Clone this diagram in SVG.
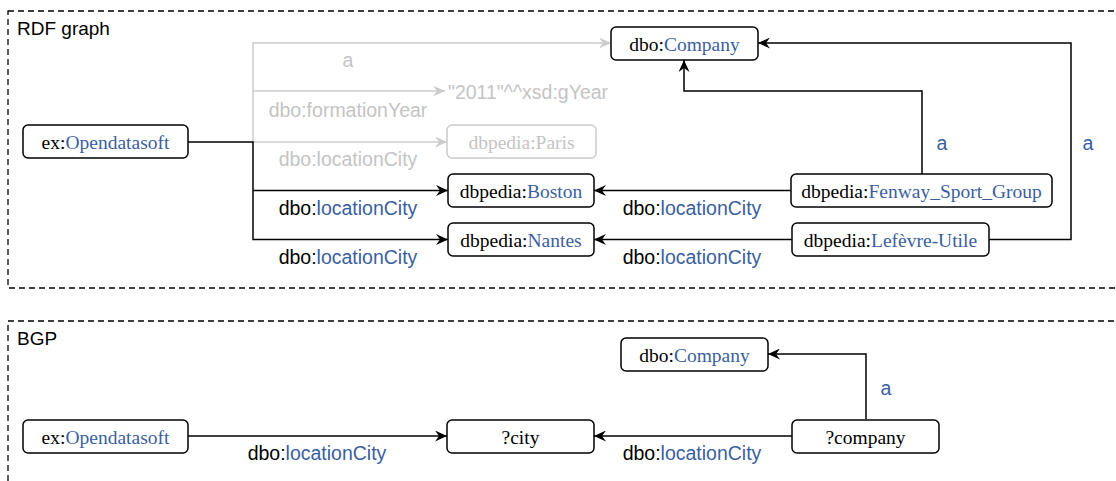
<svg xmlns="http://www.w3.org/2000/svg" width="1116" height="481" viewBox="0 0 1116 481">
<style>
.frame{fill:none;stroke:#000;stroke-width:1.3;stroke-dasharray:6 4}
.title{font-family:"Liberation Sans",Arial,sans-serif;font-size:19px;fill:#000}
.node rect{fill:#fff;stroke:#000;stroke-width:1.5}
.node text{font-family:"Liberation Serif","Times New Roman",serif;font-size:19.5px;fill:#000;text-anchor:middle}
.ghost rect{stroke:#cccccc}
.ghost text{fill:#c4c4c4}
.edge{fill:none;stroke:#000;stroke-width:1.5}
.gedge{fill:none;stroke:#cccccc;stroke-width:1.5}
.lbl{font-family:"Liberation Sans",Arial,sans-serif;font-size:19.5px;fill:#000;text-anchor:middle}
.glbl{font-family:"Liberation Sans",Arial,sans-serif;font-size:19.5px;fill:#c4c4c4;text-anchor:middle}
.b,.lbl.b,.node text .b{fill:#3a5f9f}
</style>
<defs>
<marker id="arr" markerUnits="userSpaceOnUse" markerWidth="12" markerHeight="11" refX="12" refY="5.5" orient="auto">
<path d="M0,0 L12,5.5 L0,11 L4,5.5 Z" fill="#000"/>
</marker>
<marker id="garr" markerUnits="userSpaceOnUse" markerWidth="12" markerHeight="11" refX="12" refY="5.5" orient="auto">
<path d="M0,0 L12,5.5 L0,11 L4,5.5 Z" fill="#cccccc"/>
</marker>
</defs>
<rect width="1116" height="481" fill="#fff"/>

<g id="frames">
<rect class="frame" x="8" y="11" width="1120" height="277"/>
<text class="title" x="17" y="35">RDF graph</text>
<rect class="frame" x="8" y="321" width="1120" height="180"/>
<text class="title" x="17" y="345">BGP</text>
</g>

<g id="connectors">
<path class="gedge" d="M253,142 V43 H611" marker-end="url(#garr)"/>
<path class="gedge" d="M253,91 H445" marker-end="url(#garr)"/>
<path class="gedge" d="M253,142 H447" marker-end="url(#garr)"/>
<path class="edge" d="M188,142 H253 V239.5 H448" marker-end="url(#arr)"/>
<path class="edge" d="M253,190.5 H448" marker-end="url(#arr)"/>
<path class="edge" d="M791,190.5 H594" marker-end="url(#arr)"/>
<path class="edge" d="M792,239.5 H594" marker-end="url(#arr)"/>
<path class="edge" d="M922,174 V91 H684 V60" marker-end="url(#arr)"/>
<path class="edge" d="M989,239.5 H1071 V43 H758" marker-end="url(#arr)"/>
<path class="edge" d="M188,436 H447" marker-end="url(#arr)"/>
<path class="edge" d="M792,436 H594" marker-end="url(#arr)"/>
<path class="edge" d="M866,419 V354 H768" marker-end="url(#arr)"/>

<text class="glbl" x="348" y="67">a</text>
<text class="glbl" x="348" y="117">dbo:formationYear</text>
<text class="glbl" x="348" y="166">dbo:locationCity</text>
<text class="glbl" x="448" y="99" style="text-anchor:start">"2011"^^xsd:gYear</text>
<text class="lbl" x="348" y="215">dbo:<tspan class="b">locationCity</tspan></text>
<text class="lbl" x="348" y="264">dbo:<tspan class="b">locationCity</tspan></text>
<text class="lbl" x="692" y="215">dbo:<tspan class="b">locationCity</tspan></text>
<text class="lbl" x="692" y="264">dbo:<tspan class="b">locationCity</tspan></text>
<text class="lbl b" x="942" y="150">a</text>
<text class="lbl b" x="1088" y="150">a</text>
<text class="lbl" x="317" y="460">dbo:<tspan class="b">locationCity</tspan></text>
<text class="lbl" x="692" y="460">dbo:<tspan class="b">locationCity</tspan></text>
<text class="lbl b" x="886" y="395">a</text>
</g>

<g id="n-opendatasoft" class="node">
<rect x="23" y="125" width="165" height="33" rx="5"/>
<text x="105.5" y="148.5">ex:<tspan class="b">Opendatasoft</tspan></text>
</g>
<g id="n-company" class="node">
<rect x="611" y="27" width="147" height="33" rx="5"/>
<text x="684.5" y="50.5">dbo:<tspan class="b">Company</tspan></text>
</g>
<g id="n-paris" class="node ghost">
<rect x="447" y="125" width="149" height="33" rx="5"/>
<text x="521.5" y="148.5">dbpedia:Paris</text>
</g>
<g id="n-boston" class="node">
<rect x="448" y="174" width="146" height="33" rx="5"/>
<text x="521" y="197.5">dbpedia:<tspan class="b">Boston</tspan></text>
</g>
<g id="n-nantes" class="node">
<rect x="448" y="223" width="146" height="33" rx="5"/>
<text x="521" y="246.5">dbpedia:<tspan class="b">Nantes</tspan></text>
</g>
<g id="n-fenway" class="node">
<rect x="791" y="174" width="261" height="33" rx="5"/>
<text x="921.5" y="197.5">dbpedia:<tspan class="b">Fenway_Sport_Group</tspan></text>
</g>
<g id="n-lefevre" class="node">
<rect x="792" y="223" width="197" height="33" rx="5"/>
<text x="890.5" y="246.5">dbpedia:<tspan class="b">Lefèvre-Utile</tspan></text>
</g>

<g id="b-opendatasoft" class="node">
<rect x="23" y="420" width="165" height="33" rx="5"/>
<text x="105.5" y="443.5">ex:<tspan class="b">Opendatasoft</tspan></text>
</g>
<g id="b-company" class="node">
<rect x="621" y="338" width="147" height="33" rx="5"/>
<text x="694.5" y="361.5">dbo:<tspan class="b">Company</tspan></text>
</g>
<g id="b-city" class="node">
<rect x="447" y="420" width="147" height="33" rx="5"/>
<text x="520.5" y="443.5">?city</text>
</g>
<g id="b-company-var" class="node">
<rect x="792" y="420" width="147" height="33" rx="5"/>
<text x="865.5" y="443.5">?company</text>
</g>
</svg>
